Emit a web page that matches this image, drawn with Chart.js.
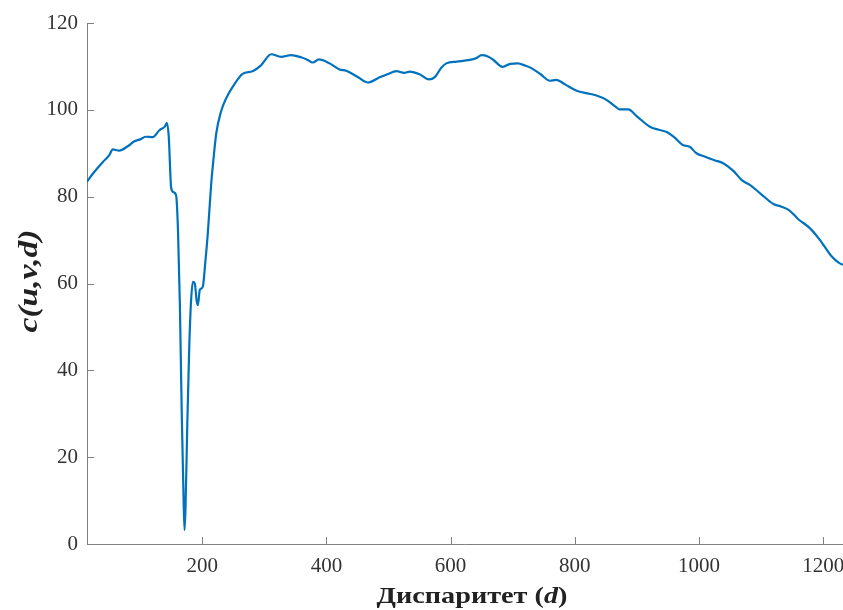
<!DOCTYPE html>
<html>
<head>
<meta charset="utf-8">
<script src="https://cdn.jsdelivr.net/npm/chart.js@4"></script>
<style>
  html, body { margin: 0; padding: 0; background: #fff; }
</style>
</head>
<body>
<canvas id="myChart" width="843" height="610"></canvas>
<script>
// disparity values (x) and matching cost c(u,v,d) (y)
var disparity = [14, 25, 40, 50, 56, 66, 80, 90, 100, 109, 120, 131, 140, 143, 146, 150, 154, 158,
    161, 164, 167, 170, 171.5, 173, 176, 179, 182, 185, 188, 191, 193, 196, 198, 201, 205, 209,
    214.5, 218, 222.6, 230, 238.7, 250, 265, 281, 295, 311, 327, 343, 359, 370, 378, 388, 405,
    421, 432, 451, 467, 483, 498, 513, 525, 534, 550, 565, 575, 585, 593, 610, 631, 641, 650,
    660, 668, 684, 696, 708, 720, 730, 745, 760, 770, 785, 803, 820, 835, 851, 865, 872, 886,
    900, 921, 935, 948, 960, 974, 985, 996, 1010, 1025, 1039, 1055, 1069, 1082, 1100, 1120,
    1133, 1146, 1160, 1179, 1195, 1214, 1225, 1232];
var cost = [83.4, 85.5, 88, 89.5, 90.9, 90.6, 91.6, 92.7, 93.2, 93.8, 93.7, 95.3, 96.2, 97.0, 94,
    82, 81, 80.2, 72, 55, 30, 10, 3.2, 8, 28, 45, 56, 60.4, 60, 56, 55.0, 58.5, 58.8, 59.3, 65,
    71.6, 83.1, 88.5, 94.6, 99.5, 102.7, 105.5, 108.3, 108.9, 110.3, 112.8, 112.2, 112.6, 112.1,
    111.5, 110.9, 111.6, 110.7, 109.3, 109.0, 107.5, 106.3, 107.3, 108.2, 108.9, 108.5, 108.8,
    108.2, 107.0, 107.6, 109.7, 110.7, 111.1, 111.5, 111.9, 112.6, 112.3, 111.6, 109.9, 110.6,
    110.7, 110.2, 109.6, 108.2, 106.7, 106.9, 105.8, 104.4, 103.8, 103.3, 102.3, 100.8, 100.1,
    100.1, 98.5, 96.1, 95.4, 94.9, 93.7, 91.9, 91.5, 90.0, 89.2, 88.4, 87.7, 86.0, 83.8, 82.7,
    80.6, 78.3, 77.7, 76.8, 74.8, 72.7, 70.0, 66.2, 64.8, 64.3];
var xTicks = [200, 400, 600, 800, 1000, 1200];
var yTicks = [0, 20, 40, 60, 80, 100, 120];

var points = disparity.map(function(d, i) { return { x: d, y: cost[i] }; });

var axisColor = '#7f7f7f';
var textColor = '#333333';
var serif = "'Liberation Serif', 'Times New Roman', serif";

// MATLAB style: inward tick marks and mixed-style axis titles
var axisDecor = {
    id: 'axisDecor',
    afterDraw: function(chart) {
        var ctx = chart.ctx;
        var area = chart.chartArea;
        var xs = chart.scales.x, ys = chart.scales.y;
        ctx.save();
        ctx.strokeStyle = axisColor;
        ctx.lineWidth = 1;
        ctx.beginPath();
        xTicks.forEach(function(v) {
            var px = Math.round(xs.getPixelForValue(v)) + 0.5;
            ctx.moveTo(px, area.bottom);
            ctx.lineTo(px, area.bottom - 7);
        });
        yTicks.forEach(function(v) {
            var py = Math.round(ys.getPixelForValue(v)) + 0.5;
            ctx.moveTo(area.left, py);
            ctx.lineTo(area.left + 7, py);
        });
        ctx.stroke();
        ctx.restore();

        // x title: "Диспаритет (d)" with italic d, a bit stretched like the source
        ctx.save();
        ctx.fillStyle = '#222';
        ctx.textBaseline = 'alphabetic';
        var fb = 'bold 24px ' + serif, fi = 'italic bold 24px ' + serif;
        var parts = [['Диспаритет (', fb], ['d', fi], [')', fb]];
        var total = 0;
        parts.forEach(function(p) { ctx.font = p[1]; total += ctx.measureText(p[0]).width; });
        var stretch = 191 / total;
        ctx.translate(472 - 95.5, 603);
        ctx.scale(stretch, 1);
        var x = 0;
        parts.forEach(function(p) {
            ctx.font = p[1];
            ctx.fillText(p[0], x, 0);
            x += ctx.measureText(p[0]).width;
        });
        ctx.restore();

        // y title
        ctx.save();
        ctx.fillStyle = '#222';
        ctx.font = 'italic bold 27px ' + serif;
        var w = ctx.measureText('c(u,v,d)').width;
        ctx.translate(30, 281);
        ctx.rotate(-Math.PI / 2);
        ctx.scale(103 / w, 1);
        ctx.textAlign = 'center';
        ctx.textBaseline = 'middle';
        ctx.fillText('c(u,v,d)', 0, 0);
        ctx.restore();
    }
};

var ctx = document.getElementById('myChart').getContext('2d');
var myChart = new Chart(ctx, {
    type: 'line',
    data: {
        datasets: [{
            data: points,
            borderColor: '#0072BD',
            borderWidth: 2.2,
            pointRadius: 0,
            fill: false,
            cubicInterpolationMode: 'monotone'
        }]
    },
    options: {
        responsive: false,
        animation: false,
        layout: { padding: { top: 23, left: 0, right: 0, bottom: 0 } },
        plugins: {
            legend: { display: false },
            tooltip: { enabled: false }
        },
        scales: {
            x: {
                type: 'linear',
                min: 14.4,
                max: 1232,
                grid: { display: false, drawTicks: false },
                border: { display: true, color: axisColor, width: 1 },
                afterBuildTicks: function(s) { s.ticks = xTicks.map(function(v) { return { value: v }; }); },
                afterFit: function(s) { s.height = 66; s.paddingLeft = 0; s.paddingRight = 0; },
                ticks: {
                    padding: 10,
                    color: textColor,
                    font: { family: serif, size: 21 },
                    callback: function(v) { return String(v); }
                }
            },
            y: {
                min: 0,
                max: 120,
                grid: { display: false, drawTicks: false },
                border: { display: true, color: axisColor, width: 1 },
                afterBuildTicks: function(s) { s.ticks = yTicks.map(function(v) { return { value: v }; }); },
                afterFit: function(s) { s.width = 87; s.paddingTop = 0; s.paddingBottom = 0; },
                ticks: {
                    padding: 9,
                    color: textColor,
                    font: { family: serif, size: 21 },
                    callback: function(v) { return String(v); }
                }
            }
        }
    },
    plugins: [axisDecor]
});
</script>
</body>
</html>
